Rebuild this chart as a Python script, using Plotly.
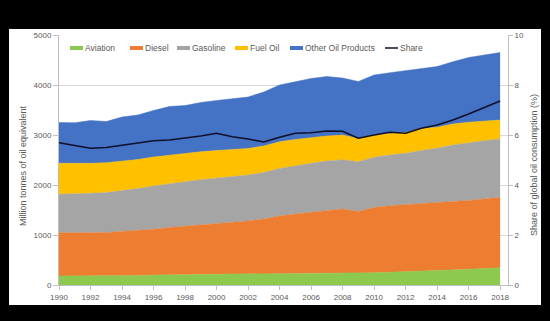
import plotly.graph_objects as go

# Oil product demand (million tonnes of oil equivalent) and share of global consumption (%)
years = list(range(1990, 2019))
aviation = [180, 180, 182, 185, 188, 192, 198, 205, 210, 212, 215, 218, 220, 222, 228,
            232, 236, 240, 245, 235, 247, 255, 265, 275, 287, 300, 315, 330, 345]
diesel = [865, 860, 863, 867, 882, 898, 917, 945, 965, 988, 1015, 1032, 1060, 1098, 1152,
          1188, 1214, 1250, 1275, 1235, 1303, 1330, 1345, 1360, 1368, 1370, 1375, 1385, 1410]
gasoline = [770, 780, 790, 796, 815, 840, 865, 880, 890, 905, 900, 920, 920, 930, 950,
            970, 985, 990, 985, 995, 1005, 1015, 1025, 1055, 1080, 1130, 1160, 1170, 1165]
fuel_oil = [620, 612, 600, 597, 590, 580, 580, 570, 570, 560, 560, 540, 530, 530, 535,
            520, 515, 500, 495, 465, 445, 435, 415, 440, 420, 420, 405, 395, 380]
other_products = [815, 813, 855, 825, 885, 890, 930, 970, 955, 985, 1000, 1020, 1030, 1080, 1135,
                  1155, 1180, 1190, 1140, 1140, 1200, 1210, 1235, 1205, 1215, 1245, 1295, 1320, 1350]
share = [5.69, 5.58, 5.47, 5.50, 5.59, 5.67, 5.77, 5.80, 5.87, 5.96, 6.07, 5.93, 5.84, 5.72, 5.91,
         6.07, 6.09, 6.16, 6.15, 5.87, 6.00, 6.11, 6.07, 6.27, 6.40, 6.60, 6.84, 7.09, 7.36]

series_names = ["Aviation", "Diesel", "Gasoline", "Fuel Oil", "Other Oil Products"]
series_values = [aviation, diesel, gasoline, fuel_oil, other_products]
series_colors = ["#8DC94E", "#ED7D31", "#A5A5A5", "#FFC000", "#4472C4"]
line_color = "#10102A"
x_ticks = list(range(1990, 2019, 2))

FONT = "Liberation Sans"
TEXT = "#595959"
AXIS = "#BFBFBF"
GRID = "#D9D9D9"

W, H = 550, 321
ML, MR, MT, MB = 59, 42, 35, 36
PW, PH = W - ML - MR, H - MT - MB


def px_x(p):
    return (p - ML) / PW


def px_y(p):
    return (H - MB - p) / PH


fig = go.Figure()
for name, vals, col in zip(series_names, series_values, series_colors):
    fig.add_trace(go.Scatter(
        x=years, y=vals, name=name, stackgroup="one", mode="lines",
        line=dict(width=0.5, color=col), fillcolor=col, showlegend=False,
        hoverinfo="x+y+name"))

fig.add_trace(go.Scatter(
    x=years, y=share, name="Share", mode="lines", yaxis="y2",
    line=dict(color=line_color, width=1.6), showlegend=False))

shapes = [
    # white chart panel
    dict(type="rect", xref="paper", yref="paper", layer="below",
         x0=px_x(9), x1=px_x(541), y0=px_y(305), y1=px_y(29),
         fillcolor="white", line=dict(width=0)),
]
annotations = []

# legend row
legend_y = 48
swatch_x = [70, 130, 177, 235, 290]
for x0, name, col in zip(swatch_x, series_names, series_colors):
    shapes.append(dict(type="rect", xref="paper", yref="paper",
                       x0=px_x(x0), x1=px_x(x0 + 13), y0=px_y(legend_y + 2), y1=px_y(legend_y - 2),
                       fillcolor=col, line=dict(width=0)))
    annotations.append(dict(xref="paper", yref="paper", x=px_x(x0 + 13), y=px_y(legend_y),
                            xanchor="left", yanchor="middle", text=name, showarrow=False,
                            font=dict(family=FONT, size=8.5, color=TEXT)))
shapes.append(dict(type="line", xref="paper", yref="paper",
                   x0=px_x(385), x1=px_x(398), y0=px_y(legend_y), y1=px_y(legend_y),
                   line=dict(color=line_color, width=1.5)))
annotations.append(dict(xref="paper", yref="paper", x=px_x(398), y=px_y(legend_y),
                        xanchor="left", yanchor="middle", text="Share", showarrow=False,
                        font=dict(family=FONT, size=8.5, color=TEXT)))

# axis titles
annotations.append(dict(xref="paper", yref="paper", x=px_x(23), y=px_y(166),
                        xanchor="center", yanchor="middle", textangle=-90, showarrow=False,
                        text="Million tonnes of oil equivalent",
                        font=dict(family=FONT, size=9, color=TEXT)))
annotations.append(dict(xref="paper", yref="paper", x=px_x(534), y=px_y(165),
                        xanchor="center", yanchor="middle", textangle=-90, showarrow=False,
                        text="Share of global oil consumption (%)",
                        font=dict(family=FONT, size=9, color=TEXT)))

fig.update_layout(
    width=W, height=H,
    margin=dict(l=ML, r=MR, t=MT, b=MB),
    paper_bgcolor="black", plot_bgcolor="white",
    font=dict(family=FONT, size=8, color=TEXT),
    xaxis=dict(range=[1990, 2018.5], tickvals=x_ticks, showgrid=False,
               showline=True, linecolor=AXIS, linewidth=1,
               ticks="outside", ticklen=4, tickcolor=AXIS,
               tickfont=dict(family=FONT, size=8, color=TEXT), zeroline=False),
    yaxis=dict(range=[0, 5000], dtick=1000, showgrid=True, gridcolor=GRID, gridwidth=1,
               showline=True, linecolor=AXIS, ticks="outside", ticklen=5, tickcolor=AXIS,
               tickfont=dict(family=FONT, size=8, color=TEXT), zeroline=False),
    yaxis2=dict(range=[0, 10], dtick=2, overlaying="y", side="right", showgrid=False,
                showline=True, linecolor=AXIS, ticks="outside", ticklen=4, tickcolor=AXIS,
                tickfont=dict(family=FONT, size=8, color=TEXT), zeroline=False),
    shapes=shapes,
    annotations=annotations,
    hovermode="x",
)

fig.write_html("out.html")
